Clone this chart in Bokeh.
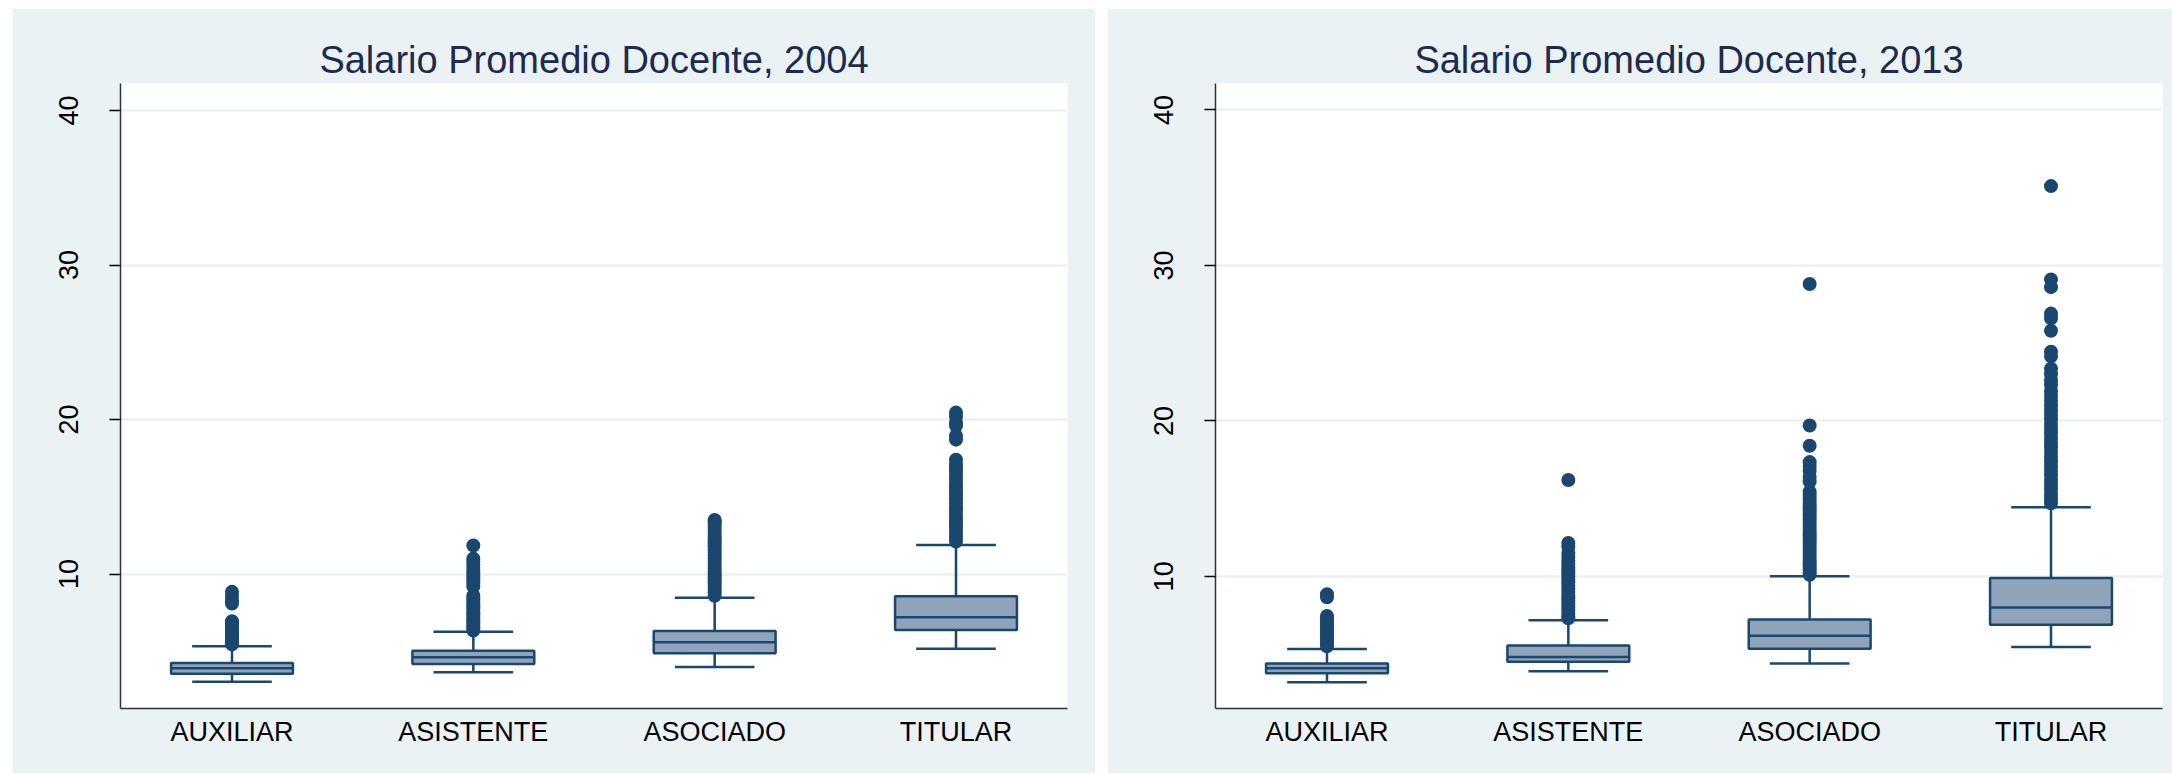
from bokeh.plotting import figure
from bokeh.layouts import row, column
from bokeh.models import FixedTicker, Range1d, Spacer, ColumnDataSource
from bokeh.embed import file_html
from bokeh.resources import INLINE

categories = ["AUXILIAR", "ASISTENTE", "ASOCIADO", "TITULAR"]
y_ticks = [10, 20, 30, 40]

# ---- 2004 ----
title_2004 = "Salario Promedio Docente, 2004"
lw_2004 = [3.03, 3.64, 3.99, 5.17]
q1_2004 = [3.55, 4.18, 4.88, 6.38]
med_2004 = [3.91, 4.61, 5.58, 7.21]
q3_2004 = [4.25, 5.04, 6.32, 8.56]
uw_2004 = [5.33, 6.27, 8.46, 11.88]
out_aux_2004 = [8.85, 8.6, 8.3, 8.1, 6.95, 6.8, 6.65, 6.5, 6.35, 6.2, 6.05, 5.9, 5.75, 5.6, 5.45]
out_asi_2004 = [11.85, 11.0, 10.8, 10.6, 10.4, 10.2, 10.0, 9.8, 9.6, 9.4, 9.2, 8.6, 8.45, 8.3,
                8.15, 8.0, 7.85, 7.7, 7.55, 7.4, 7.25, 7.1, 6.95, 6.8, 6.65, 6.5, 6.35]
out_aso_2004 = [13.5, 13.35, 13.2, 13.0, 12.8, 12.6, 12.4, 12.2, 12.0, 11.8, 11.6, 11.4, 11.2,
                11.0, 10.8, 10.6, 10.4, 10.2, 10.0, 9.8, 9.6, 9.4, 9.2, 9.0, 8.8, 8.6]
out_tit_2004 = [20.45, 20.2, 19.8, 19.6, 18.95, 18.7, 17.4, 17.1, 16.85, 16.6, 16.35, 16.1, 15.85,
                15.6, 15.35, 15.1, 14.85, 14.6, 14.35, 14.1, 13.85, 13.6, 13.35, 13.1, 12.85,
                12.6, 12.35, 12.1]

# ---- 2013 ----
title_2013 = "Salario Promedio Docente, 2013"
lw_2013 = [3.19, 3.90, 4.39, 5.45]
q1_2013 = [3.76, 4.50, 5.35, 6.88]
med_2013 = [4.09, 4.82, 6.18, 8.0]
q3_2013 = [4.40, 5.55, 7.23, 9.90]
uw_2013 = [5.32, 7.17, 10.0, 14.45]
out_aux_2013 = [8.85, 8.65, 7.45, 7.3, 7.15, 7.0, 6.85, 6.7, 6.55, 6.4, 6.25, 6.1, 5.95, 5.8, 5.65, 5.5]
out_asi_2013 = [16.2, 12.15, 11.9, 11.5, 11.25, 11.0, 10.8, 10.6, 10.4, 10.2, 10.0, 9.8, 9.6, 9.4,
                9.2, 9.0, 8.8, 8.6, 8.4, 8.2, 8.0, 7.8, 7.6, 7.4, 7.3]
out_aso_2013 = [28.8, 19.7, 18.4, 17.35, 17.1, 16.8, 16.4, 16.1, 15.45, 15.25, 15.05, 14.85, 14.65,
                14.45, 14.25, 14.05, 13.85, 13.65, 13.45, 13.25, 13.05, 12.85, 12.65, 12.45,
                12.25, 12.05, 11.85, 11.65, 11.45, 11.25, 11.05, 10.85, 10.65, 10.45, 10.25, 10.1]
out_tit_2013 = [35.1, 29.1, 28.6, 26.9, 26.6, 25.8, 24.45, 24.15, 23.35, 23.0, 22.6, 22.3, 21.9,
                21.6, 21.3, 21.0, 20.7, 20.4, 20.1, 19.8, 19.5, 19.2, 18.9, 18.6, 18.3, 18.0,
                17.7, 17.4, 17.1, 16.8, 16.5, 16.2, 15.9, 15.6, 15.3, 15.0, 14.7]

NAVY = "#1a476f"
BOX_FILL = "#8fa4b9"
BG = "#eaf2f3"
FONT = "Liberation Sans"
H = 765


def make_panel(title, lw, q1, med, q3, uw, outs, y_start, y_end, width, left, right):
    pos = [i + 1 for i in range(len(categories))]
    p = figure(width=width, height=H, output_backend="svg", toolbar_location=None,
               x_range=Range1d(0.538, 4.462), y_range=Range1d(y_start, y_end),
               min_border_left=left, min_border_right=right,
               min_border_top=75, min_border_bottom=65)
    p.border_fill_color = BG
    p.background_fill_color = "white"
    p.outline_line_color = None

    p.title.text = title
    p.title.align = "center"
    p.title.text_font = FONT
    p.title.text_font_size = "38px"
    p.title.text_font_style = "normal"
    p.title.text_color = "#1e2b4f"
    p.title.standoff = 5

    src = ColumnDataSource(dict(x=pos, lw=lw, q1=q1, med=med, q3=q3, uw=uw))
    # whiskers
    p.segment(x0="x", y0="q3", x1="x", y1="uw", source=src, line_color=NAVY, line_width=2.5)
    p.segment(x0="x", y0="q1", x1="x", y1="lw", source=src, line_color=NAVY, line_width=2.5)
    # caps
    cap = 0.165
    capsrc = ColumnDataSource(dict(xa=[x - cap for x in pos], xb=[x + cap for x in pos], lw=lw, uw=uw))
    p.segment(x0="xa", y0="uw", x1="xb", y1="uw", source=capsrc, line_color=NAVY, line_width=2.5)
    p.segment(x0="xa", y0="lw", x1="xb", y1="lw", source=capsrc, line_color=NAVY, line_width=2.5)
    # boxes
    p.vbar(x="x", width=0.505, bottom="q1", top="q3", source=src,
           fill_color=BOX_FILL, line_color=NAVY, line_width=2.5)
    # medians
    half = 0.2525
    medsrc = ColumnDataSource(dict(xa=[x - half for x in pos], xb=[x + half for x in pos], med=med))
    p.segment(x0="xa", y0="med", x1="xb", y1="med", source=medsrc, line_color=NAVY, line_width=2.5)
    # outliers
    ox, oy = [], []
    for x, vals in zip(pos, outs):
        ox += [x] * len(vals)
        oy += vals
    p.scatter(ox, oy, size=14, fill_color=NAVY, line_color=NAVY, line_width=0)

    # axes
    p.xaxis.ticker = FixedTicker(ticks=pos)
    p.xaxis.major_label_overrides = {x: c for x, c in zip(pos, categories)}
    p.xaxis.major_tick_out = 0
    p.xaxis.major_tick_in = 0
    p.xaxis.minor_tick_line_color = None
    p.xaxis.major_label_text_font = FONT
    p.xaxis.major_label_text_font_size = "27px"
    p.xaxis.major_label_text_color = "black"
    p.xaxis.major_label_standoff = 8
    p.xaxis.axis_line_color = "#333333"
    p.xaxis.axis_line_width = 1.5

    p.yaxis.ticker = FixedTicker(ticks=y_ticks)
    p.yaxis.major_label_orientation = "vertical"
    p.yaxis.major_tick_out = 11
    p.yaxis.major_tick_in = 0
    p.yaxis.major_tick_line_color = "black"
    p.yaxis.major_tick_line_width = 1.5
    p.yaxis.minor_tick_line_color = None
    p.yaxis.major_label_text_font = FONT
    p.yaxis.major_label_text_font_size = "27px"
    p.yaxis.major_label_text_color = "black"
    p.yaxis.major_label_standoff = 31
    p.yaxis.axis_line_color = "#333333"
    p.yaxis.axis_line_width = 1.5

    p.xgrid.visible = False
    p.ygrid.grid_line_color = BG
    p.ygrid.grid_line_width = 2.5
    return p


p1 = make_panel(title_2004, lw_2004, q1_2004, med_2004, q3_2004, uw_2004,
                [out_aux_2004, out_asi_2004, out_aso_2004, out_tit_2004],
                1.3, 41.75, 1083, 108, 28)
p2 = make_panel(title_2013, lw_2013, q1_2013, med_2013, q3_2013, uw_2013,
                [out_aux_2013, out_asi_2013, out_aso_2013, out_tit_2013],
                1.5, 41.7, 1065, 108, 10)

layout = column(
    Spacer(width=2172, height=8),
    row(Spacer(width=12, height=H), p1, Spacer(width=12, height=H), p2, spacing=0),
    spacing=0,
)

open("out.html", "w").write(file_html(layout, INLINE))
